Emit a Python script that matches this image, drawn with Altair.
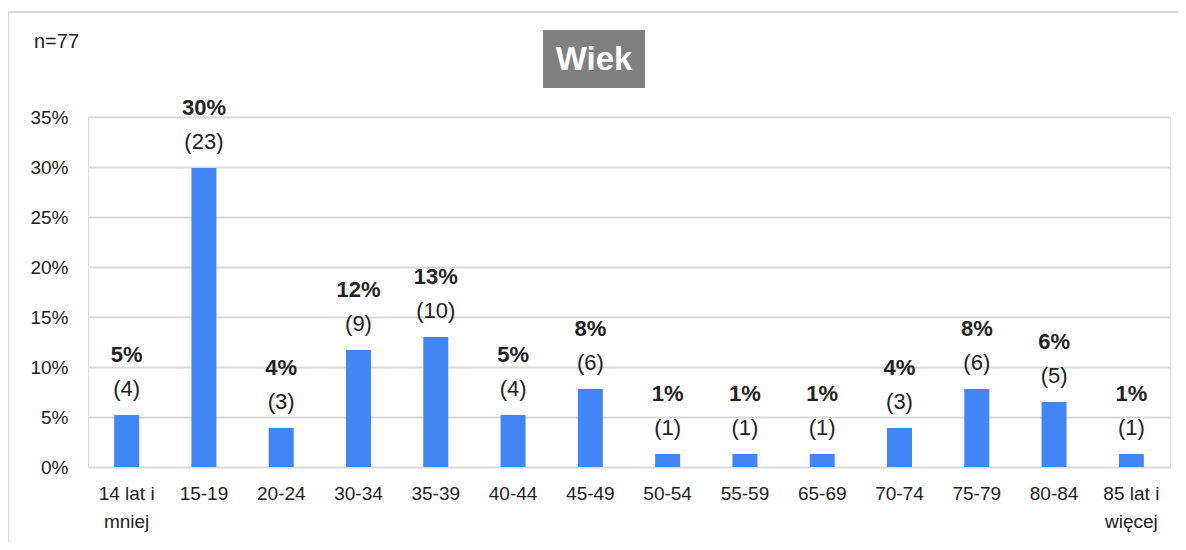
import altair as alt
import pandas as pd

categories = ["14 lat i|mniej", "15-19", "20-24", "30-34", "35-39", "40-44", "45-49",
              "50-54", "55-59", "65-69", "70-74", "75-79", "80-84", "85 lat i|więcej"]
percent = [5.2, 29.9, 3.9, 11.7, 13.0, 5.2, 7.8, 1.3, 1.3, 1.3, 3.9, 7.8, 6.49, 1.3]
counts = [4, 23, 3, 9, 10, 4, 6, 1, 1, 1, 3, 6, 5, 1]
y_ticks = [0, 5, 10, 15, 20, 25, 30, 35]
title_text = "Wiek"
sample_text = "n=77"

df = pd.DataFrame({
    "cat": categories,
    "pct": percent,
    "pct_label": [f"{round(p)}%" for p in percent],
    "cnt_label": [f"({c})" for c in counts],
})

FONT = "Liberation Sans"
TXT = "#222222"

x_enc = alt.X("cat:N", sort=categories, title=None,
              scale=alt.Scale(paddingInner=0.0, paddingOuter=0.0),
              axis=alt.Axis(labelExpr="split(datum.label, '|')", labelAngle=0,
                            labelFont=FONT, labelFontSize=19, labelColor=TXT,
                            labelPadding=17, labelLineHeight=28, ticks=False,
                            domain=False, grid=False, labelBaseline="top"))
y_enc = alt.Y("pct:Q", title=None,
              scale=alt.Scale(domain=[0, 35], nice=False),
              axis=alt.Axis(values=y_ticks, labelExpr="datum.value + '%'",
                            labelFont=FONT, labelFontSize=19, labelColor=TXT,
                            labelPadding=20, ticks=False, domain=False,
                            gridColor="#d9d9d9", gridWidth=2))

base = alt.Chart(df)

bars = base.mark_bar(size=25, color="#4285f4").encode(x=x_enc, y=y_enc)

pct_text = base.mark_text(font=FONT, fontSize=22, fontWeight="bold", color=TXT,
                          baseline="middle", dy=-60).encode(
    x=alt.X("cat:N", sort=categories), y="pct:Q", text="pct_label:N")
cnt_text = base.mark_text(font=FONT, fontSize=22, color=TXT,
                          baseline="middle", dy=-26).encode(
    x=alt.X("cat:N", sort=categories), y="pct:Q", text="cnt_label:N")

deco = pd.DataFrame({"t": [title_text]})
frame = alt.Chart(deco).mark_rect(fill=None, stroke="#d9d9d9", strokeWidth=2, clip=False).encode(
    x=alt.value(-80), x2=alt.value(1200), y=alt.value(-105), y2=alt.value(500))
title_box = alt.Chart(deco).mark_rect(color="#808080", clip=False).encode(
    x=alt.value(455), x2=alt.value(557), y=alt.value(-87), y2=alt.value(-29))
title_txt = alt.Chart(deco).mark_text(font=FONT, fontSize=33, fontWeight="bold",
                                      color="white", align="center", baseline="middle").encode(
    x=alt.value(506), y=alt.value(-57), text="t:N")
n_txt = alt.Chart(pd.DataFrame({"t": [sample_text]})).mark_text(
    font=FONT, fontSize=20, color=TXT, align="left", baseline="middle").encode(
    x=alt.value(-54), y=alt.value(-75), text="t:N")

chart = alt.layer(frame, bars, pct_text, cnt_text, title_box, title_txt, n_txt).properties(
    width=1082, height=350,
    autosize=alt.AutoSizeParams(type="none"),
    padding={"left": 80, "top": 109, "right": 8, "bottom": 75},
).configure_view(stroke=None).configure(background="white")

chart.save("out.html", embed_options={"renderer": "svg", "actions": False})
